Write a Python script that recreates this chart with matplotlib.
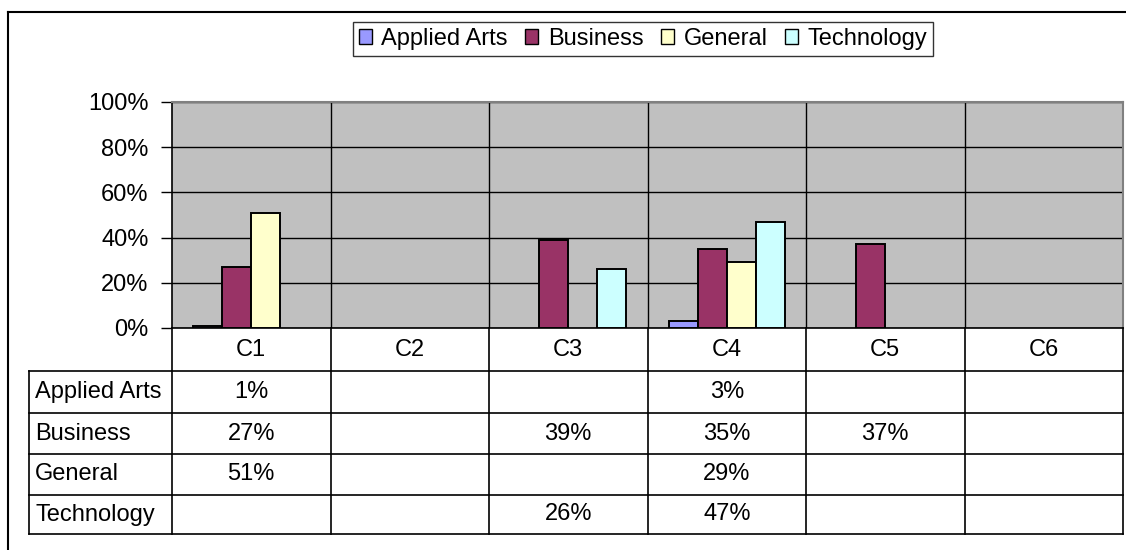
import numpy as np
import matplotlib.pyplot as plt
from matplotlib.patches import Patch
from matplotlib.lines import Line2D
from matplotlib.ticker import PercentFormatter

plt.rcParams['font.family'] = ['Liberation Sans', 'DejaVu Sans']

categories = ['C1', 'C2', 'C3', 'C4', 'C5', 'C6']
series = ['Applied Arts', 'Business', 'General', 'Technology']
# percentages, None = no value
applied_arts = [1, None, None, 3, None, None]
business = [27, None, 39, 35, 37, None]
general = [51, None, None, 29, None, None]
technology = [None, None, 26, 47, None, None]
values = [applied_arts, business, general, technology]
colors = ['#9999FF', '#993366', '#FFFFCC', '#CCFFFF']

W, H = 1126, 550
fig = plt.figure(figsize=(W / 100, H / 100), dpi=100)


def fx(x):
    return x / W


def fy(y):
    return 1 - y / H


# plot area in pixels
L, R, T, B = 172, 1123, 102, 328
ax = fig.add_axes([fx(L), fy(B), fx(R) - fx(L), fy(T) - fy(B)])
ax.set_facecolor('#C0C0C0')

n = len(categories)
x = np.arange(n)
w = 0.183
for i, (name, vals) in enumerate(zip(series, values)):
    h = np.array([np.nan if v is None else v / 100 for v in vals])
    ax.bar(x + (i - 1.5) * w, h, width=w, color=colors[i], edgecolor='black',
           linewidth=1.4, zorder=3)

ax.set_xlim(-0.5, n - 0.5)
ax.set_ylim(0, 1)
ax.set_yticks(np.linspace(0, 1, 6))
ax.yaxis.set_major_formatter(PercentFormatter(1.0, decimals=0))
ax.tick_params(axis='y', length=8, width=1, labelsize=17, pad=9)
ax.set_xticks([])
ax.grid(axis='y', color='black', linewidth=1, zorder=1)
for b in np.arange(0.5, n - 0.5, 1):
    ax.axvline(b, color='black', linewidth=1, zorder=1)
for s in ['top', 'right']:
    ax.spines[s].set_color('#808080')
    ax.spines[s].set_linewidth(1.5)
for s in ['left', 'bottom']:
    ax.spines[s].set_color('black')
    ax.spines[s].set_linewidth(1.2)

# data table below the plot
row_edges = [371, 413, 454, 495, 534]
col_edges = [L + (R - L) * k / n for k in range(n + 1)]
TL = 29
lc = dict(color='black', linewidth=1.2)
for k, cx in enumerate(col_edges):
    fig.add_artist(Line2D([fx(cx), fx(cx)], [fy(B), fy(row_edges[-1])], **lc))
fig.add_artist(Line2D([fx(TL), fx(TL)], [fy(row_edges[0]), fy(row_edges[-1])], **lc))
for ry in row_edges:
    fig.add_artist(Line2D([fx(TL), fx(R)], [fy(ry), fy(ry)], **lc))

fs = 17
for k, c in enumerate(categories):
    cx = (col_edges[k] + col_edges[k + 1]) / 2
    fig.text(fx(cx), fy((B + row_edges[0]) / 2), c, ha='center', va='center', fontsize=fs)
for r, (name, vals) in enumerate(zip(series, values)):
    cy = (row_edges[r] + row_edges[r + 1]) / 2
    fig.text(fx(TL + 6), fy(cy), name, ha='left', va='center', fontsize=fs)
    for k, v in enumerate(vals):
        if v is None:
            continue
        cx = (col_edges[k] + col_edges[k + 1]) / 2
        fig.text(fx(cx), fy(cy), f'{v}%', ha='center', va='center', fontsize=fs)

# outer chart frame (cropped on the right and bottom)
fig.add_artist(Line2D([fx(8), fx(W)], [fy(12), fy(12)], color='black', linewidth=1.5))
fig.add_artist(Line2D([fx(8), fx(8)], [fy(12), 0], color='black', linewidth=1.5))

handles = [Patch(facecolor=c, edgecolor='black', linewidth=1) for c in colors]
leg = fig.legend(handles, series, ncol=4, loc='upper center',
                 bbox_to_anchor=(fx(643), fy(22)), fontsize=17, frameon=True,
                 fancybox=False, edgecolor='black', handlelength=0.55,
                 handleheight=0.55, handletextpad=0.4, columnspacing=0.75,
                 borderpad=0.25, borderaxespad=0)
leg.get_frame().set_linewidth(1)

fig.savefig('out.png', dpi=100)
